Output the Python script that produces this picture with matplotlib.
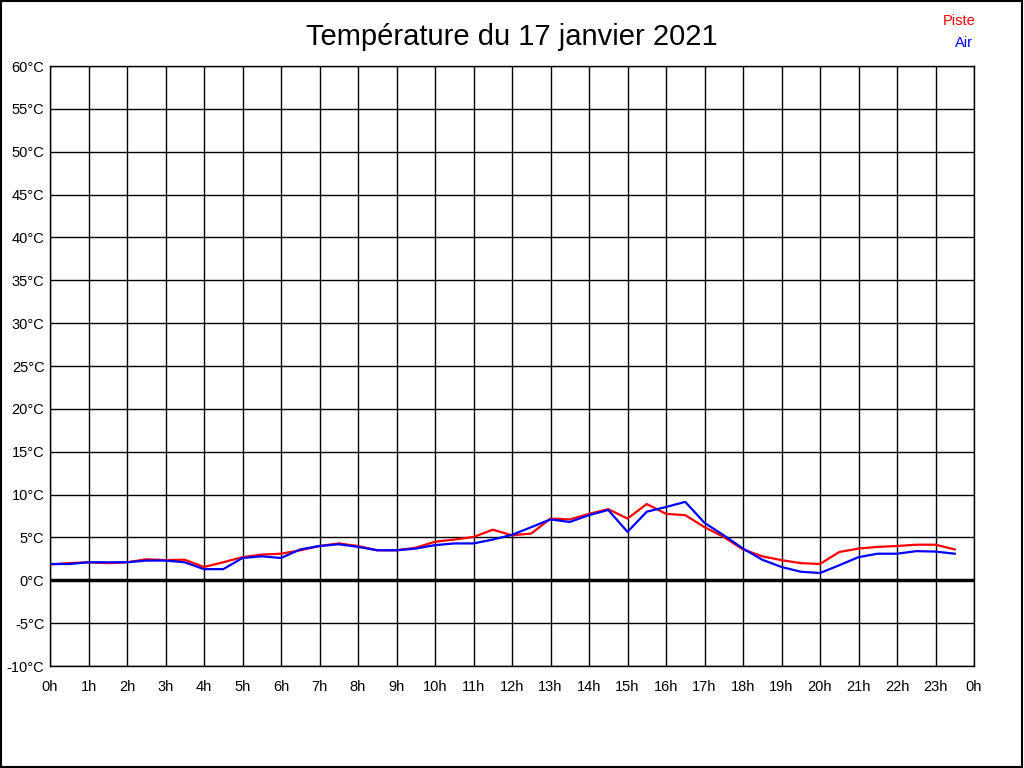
import numpy as np
import matplotlib
matplotlib.use('Agg')
import matplotlib.pyplot as plt
from matplotlib.patches import Rectangle

# Half-hourly readings, 0h to 23h30
hours = np.arange(0, 24, 0.5)
piste = [1.85, 2.0, 2.1, 2.0, 2.1, 2.45, 2.35, 2.4, 1.55, 2.1,
         2.7, 3.0, 3.1, 3.5, 4.0, 4.3, 4.0, 3.5, 3.5, 3.8,
         4.5, 4.75, 5.05, 5.9, 5.25, 5.45, 7.2, 7.1, 7.75, 8.3,
         7.2, 8.9, 7.75, 7.6, 6.2, 5.05, 3.6, 2.8, 2.35, 2.0,
         1.9, 3.3, 3.7, 3.9, 4.0, 4.15, 4.15, 3.6]
air = [1.9, 1.9, 2.1, 2.1, 2.1, 2.3, 2.3, 2.1, 1.3, 1.3,
       2.6, 2.8, 2.6, 3.6, 4.0, 4.2, 3.9, 3.5, 3.5, 3.7,
       4.1, 4.3, 4.3, 4.75, 5.3, 6.2, 7.1, 6.8, 7.6, 8.2,
       5.65, 8.0, 8.55, 9.15, 6.7, 5.25, 3.7, 2.4, 1.55, 1.0,
       0.85, 1.75, 2.7, 3.1, 3.1, 3.4, 3.35, 3.1]

x_ticks = list(range(0, 25))
x_labels = ['%dh' % (h % 24) for h in x_ticks]
y_ticks = list(range(-10, 65, 5))
y_labels = ['%d°C' % t for t in y_ticks]

plt.rcParams['font.family'] = ['Liberation Sans', 'DejaVu Sans']

fig = plt.figure(figsize=(10.24, 7.68), dpi=100)
ax = fig.add_axes([50 / 1024, 102 / 768, 924 / 1024, 600 / 768])

# Grid
for h in x_ticks:
    ax.axvline(h, color='black', lw=1, zorder=1)
for t in y_ticks:
    ax.axhline(t, color='black', lw=1, zorder=1)
ax.axhline(0, color='black', lw=2.5, zorder=2)

# Curves
ax.plot(hours, piste, color='#ff0000', lw=1.6, zorder=3)
ax.plot(hours, air, color='#0000ff', lw=1.6, zorder=4)

ax.set_xlim(0, 24)
ax.set_ylim(-10, 60)
ax.set_xticks(x_ticks)
ax.set_xticklabels(x_labels, fontsize=10.5)
ax.set_yticks(y_ticks)
ax.set_yticklabels(y_labels, fontsize=10.5)
ax.tick_params(axis='x', length=0, pad=10)
ax.tick_params(axis='y', length=0, pad=4)
for s in ax.spines.values():
    s.set_linewidth(1)

fig.text(0.5, 1 - 37 / 768, 'Température du 17 janvier 2021',
         ha='center', va='center', fontsize=21)
fig.text(976 / 1024, 1 - 21 / 768, 'Piste', color='#ff0000',
         ha='right', va='center', fontsize=10.5)
fig.text(973 / 1024, 1 - 43 / 768, 'Air', color='#0000ff',
         ha='right', va='center', fontsize=10.5)

# Outer frame
fig.patches.append(Rectangle((0.0005, 0.0007), 0.998, 0.998, transform=fig.transFigure,
                             fill=False, edgecolor='black', lw=1.5))

fig.savefig('out.png', dpi=100)
